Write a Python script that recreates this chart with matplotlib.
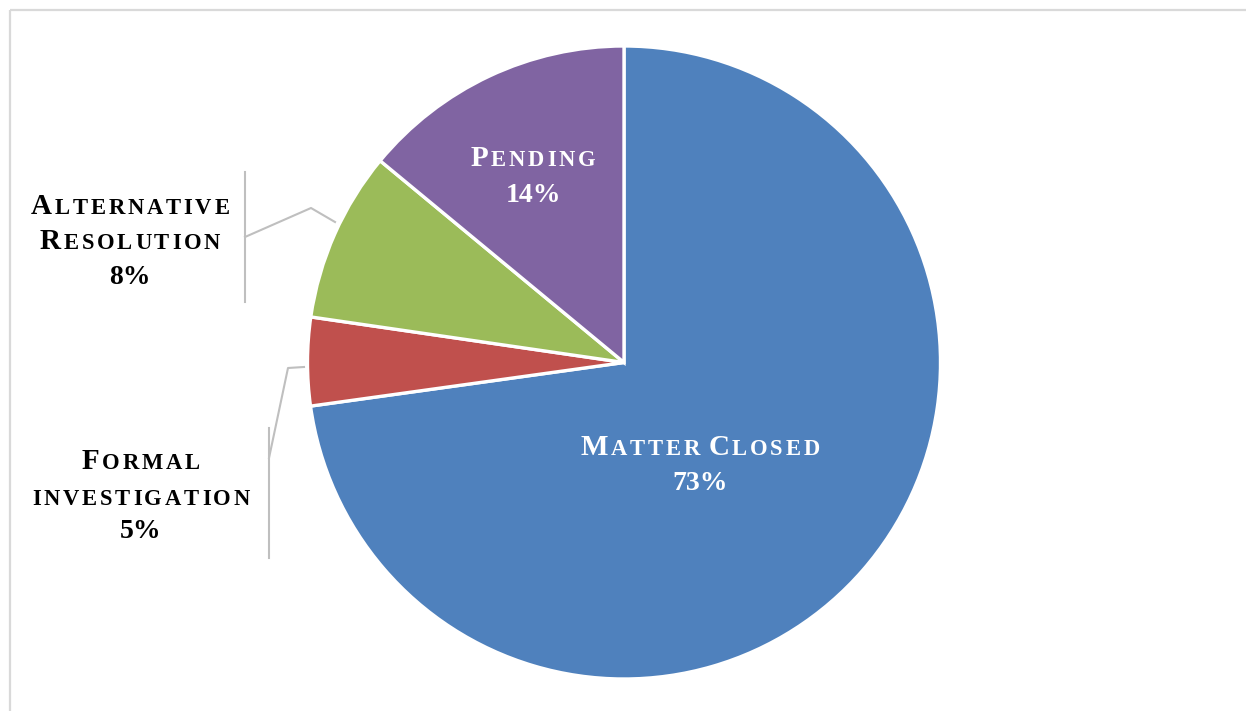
import matplotlib
matplotlib.use("Agg")
import matplotlib.pyplot as plt
from matplotlib.offsetbox import TextArea, HPacker, AnnotationBbox

# ---- data ----
categories = ["Matter Closed", "Formal investigation", "Alternative Resolution", "Pending"]
values = [72.8, 4.5, 8.7, 14.0]
pct_labels = ["73%", "5%", "8%", "14%"]
label_lines = [["Matter Closed"], ["Formal", "investigation"], ["Alternative", "Resolution"], ["Pending"]]
colors = ["#4F81BD", "#C0504D", "#9BBB59", "#8064A2"]

# ---- layout ----
W, H = 1246, 711
fig = plt.figure(figsize=(W / 100, H / 100), dpi=100)
ax = fig.add_axes([0, 0, 1, 1])
CX, CY, R = 624, 362.5, 316.5

wedges, _ = ax.pie(values, colors=colors, startangle=-90, counterclock=True,
                   center=(CX, CY), radius=R,
                   wedgeprops=dict(edgecolor="white", linewidth=2.4))
ax.set_xlim(0, W)
ax.set_ylim(H, 0)
ax.set_aspect("auto")
ax.axis("off")

# frame
frame_c = "#D9D9D9"
ax.plot([9.5, 9.5], [H, 9.5], color=frame_c, lw=1.6, solid_capstyle="butt")
ax.plot([9.5, W], [9.5, 9.5], color=frame_c, lw=1.6, solid_capstyle="butt")

FONT = "Liberation Serif"
BIG, SMALL, NUM = 21, 16.3, 20
TRACK = 2.0
WORDGAP = 6


def smallcaps_line(text, color, big=BIG, small=SMALL):
    words = []
    for word in text.split(" "):
        chars = []
        for ch in word:
            size = big if (ch.isupper() or not ch.isalpha()) else small
            chars.append(TextArea(ch.upper(), textprops=dict(fontsize=size, fontweight="bold",
                                                               family=FONT, color=color)))
        words.append(HPacker(children=chars, sep=TRACK, pad=0, align="baseline"))
    return HPacker(children=words, sep=WORDGAP, pad=0, align="baseline")


def place(box, x, baseline):
    # box bottom sits at baseline + descent (pixel coords, y downward)
    ab = AnnotationBbox(box, (x, baseline + 6.3), xycoords="data", box_alignment=(0.5, 0),
                        frameon=False, pad=0)
    ax.add_artist(ab)


def pct_box(text, color):
    return TextArea(text, textprops=dict(fontsize=NUM, fontweight="bold", family=FONT, color=color))


# label positions: (x centre, first baseline, line step, text colour)
label_pos = [(700, 455, 35, "white"), (141, 469, 34.5, "black"),
             (130, 214, 35, "black"), (533, 166, 36, "white")]

for lines, pct, (x, b0, step, col) in zip(label_lines, pct_labels, label_pos):
    for i, ln in enumerate(lines):
        place(smallcaps_line(ln, col), x, b0 + i * step)
    place(pct_box(pct, col), x, b0 + len(lines) * step)

# leader lines
lead_c = "#BFBFBF"
ax.plot([245, 245], [172, 302], color=lead_c, lw=1.5)
ax.plot([245, 311, 335], [237, 208, 222], color=lead_c, lw=1.5)
ax.plot([269, 269], [428, 558], color=lead_c, lw=1.5)
ax.plot([269, 288, 304], [458, 368, 367], color=lead_c, lw=1.5)

fig.savefig("out.png", dpi=100)
